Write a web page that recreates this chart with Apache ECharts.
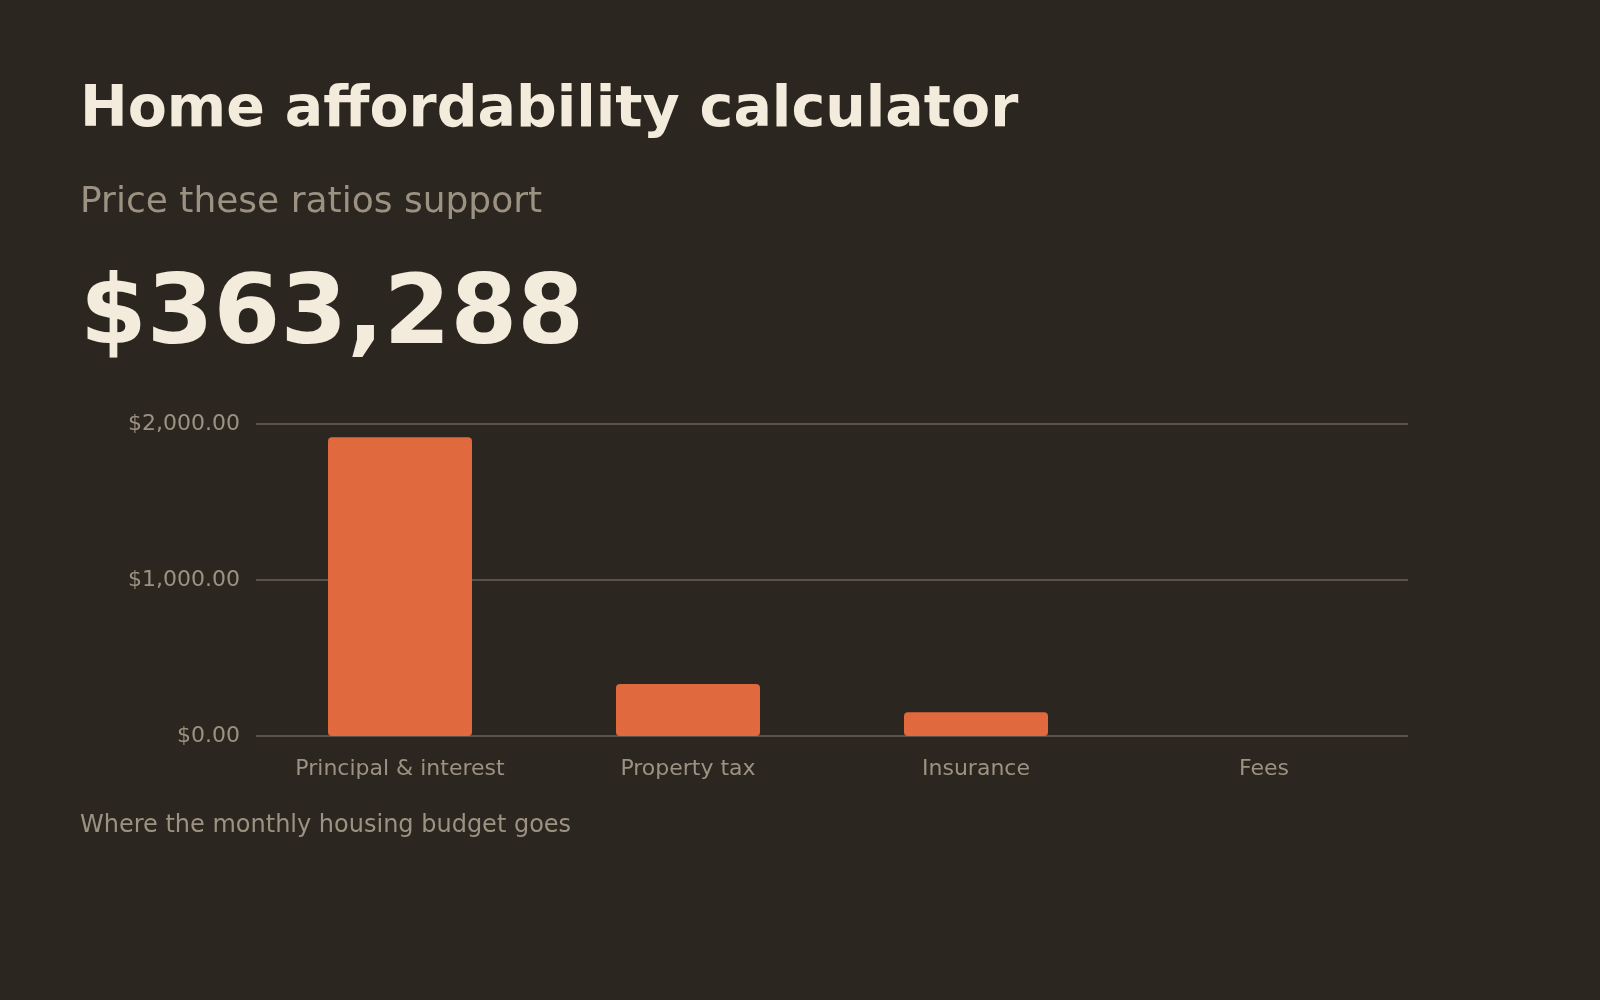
<!DOCTYPE html>
<html>
<head>
<meta charset="utf-8">
<title>Home affordability calculator</title>
<script src="https://cdn.jsdelivr.net/npm/echarts@6/dist/echarts.min.js"></script>
<style>
  html, body { margin: 0; padding: 0; background: #2b2620; }
  #chart { width: 1600px; height: 1000px; }
</style>
</head>
<body>
<div id="chart"></div>
<script>
// budget categories and monthly amounts
var categories = ['Principal & interest', 'Property tax', 'Insurance', 'Fees']
var monthly = [1915, 333, 152, 0]
var yTicks = [0, 1000, 2000]

var titleText = 'Home affordability calculator'
var subText = 'Price these ratios support'
var priceText = '$363,288'
var footText = 'Where the monthly housing budget goes'

var cream = '#f3ebdc'
var muted = '#9c9282'
var font = '"DejaVu Sans", sans-serif'

var myChart = echarts.init(document.getElementById('chart'))

function money(v) {
    return '$' + v.toLocaleString('en-US', { minimumFractionDigits: 2, maximumFractionDigits: 2 })
}

var option = {
    backgroundColor: '#2b2620',
    animation: false,
    graphic: [
        { type: 'text', left: 80, top: 83, style: { text: titleText, fill: cream, font: 'bold 57px ' + font } },
        { type: 'text', left: 80, top: 185, style: { text: subText, fill: muted, font: '36px ' + font } },
        { type: 'text', left: 80, top: 270, style: { text: priceText, fill: cream, font: 'bold 96px ' + font } },
        { type: 'text', left: 80, top: 814, style: { text: footText, fill: muted, font: '24px ' + font } }
    ],
    grid: { left: 256, right: 192, top: 424, bottom: 264 },
    xAxis: {
        type: 'category',
        data: categories,
        axisLine: { show: false },
        axisTick: { show: false },
        axisLabel: { color: muted, fontSize: 22, fontFamily: font, margin: 22 }
    },
    yAxis: {
        type: 'value',
        min: yTicks[0],
        max: yTicks[yTicks.length - 1],
        interval: 1000,
        axisLabel: { color: muted, fontSize: 22, fontFamily: font, margin: 16, padding: [4, 0, 0, 0], formatter: money },
        splitLine: { lineStyle: { color: '#6a6258', width: 1.5 } }
    },
    series: [{
        type: 'bar',
        data: monthly,
        barWidth: '50%',
        itemStyle: { color: '#e0693d', borderRadius: 4 }
    }]
}
myChart.setOption(option)
</script>
</body>
</html>
